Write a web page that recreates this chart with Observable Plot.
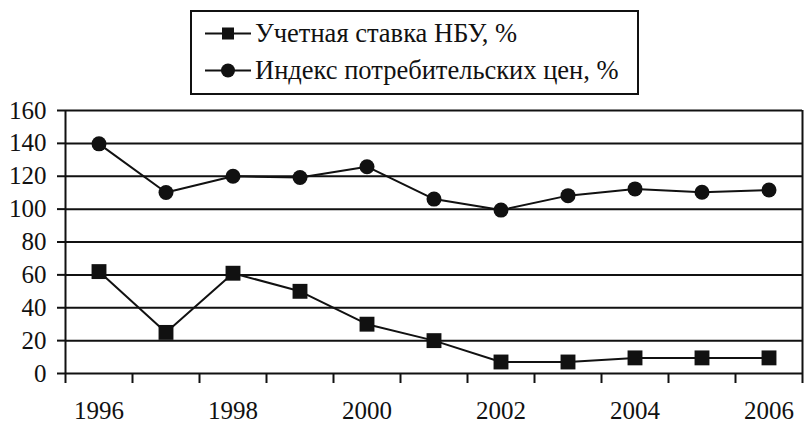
<!DOCTYPE html>
<html><head><meta charset="utf-8">
<script src="https://cdn.jsdelivr.net/npm/d3@7"></script>
<script src="https://cdn.jsdelivr.net/npm/@observablehq/plot@0.6"></script>
<style>
body{margin:0;background:#fff;}
#wrap{position:relative;width:804px;height:424px;font-family:'Liberation Serif','Times New Roman',serif;}
#legend{position:absolute;left:190px;top:10px;width:445px;height:81px;border:2px solid #111;background:#fff;z-index:2;}
.row{position:absolute;left:13px;height:30px;display:flex;align-items:center;font-size:26.5px;color:#111;white-space:nowrap;}
.row svg{margin-right:4px;}
#chart{position:absolute;left:0;top:0;}
#chart svg text{font-family:'Liberation Serif','Times New Roman',serif;}
</style></head>
<body><div id="wrap"><div id="legend"></div><div id="chart"></div></div>
<script>
const years = [1996,1997,1998,1999,2000,2001,2002,2003,2004,2005,2006];
const discountRate = [62,25,61,50,30,20,7,7,9.5,9.5,9.5];
const cpi = [139.7,110.1,120.0,119.2,125.8,106.1,99.4,108.2,112.3,110.3,111.6];
const seriesNames = ["Учетная ставка НБУ, %","Индекс потребительских цен, %"];
const yTicks = [0,20,40,60,80,100,120,140,160];
const xLabels = [1996,1998,2000,2002,2004,2006];

const boundaries = years.map(y => y - 0.5).concat([years[years.length-1] + 0.5]);
const rateData = years.map((y,i) => ({year:y, v:discountRate[i]}));
const cpiData = years.map((y,i) => ({year:y, v:cpi[i]}));
const ink = "#111";
const serif = "'Liberation Serif','Times New Roman',serif";

const chart = Plot.plot({
  width:804, height:424,
  marginTop:110, marginBottom:51, marginLeft:65, marginRight:2,
  style:{fontFamily:serif, fontSize:"25px", color:ink, background:"transparent"},
  x:{type:"linear", domain:[boundaries[0], boundaries[boundaries.length-1]], axis:null},
  y:{domain:[0,160], axis:null},
  marks:[
    Plot.ruleY(yTicks, {stroke:ink, strokeWidth:2}),
    Plot.ruleX([boundaries[0], boundaries[boundaries.length-1]], {stroke:ink, strokeWidth:2}),
    Plot.axisY({ticks:yTicks, tickSize:8, tickPadding:11, tickFormat:d => String(d), strokeWidth:2, fontSize:25, label:null}),
    Plot.axisX({ticks:boundaries, tickSize:10, tickFormat:() => "", strokeWidth:2, label:null}),
    Plot.axisX({ticks:xLabels, tickSize:0, tickPadding:28, tickFormat:d => String(d), fontSize:25, label:null}),
    Plot.line(cpiData, {x:"year", y:"v", stroke:ink, strokeWidth:2}),
    Plot.line(rateData, {x:"year", y:"v", stroke:ink, strokeWidth:2}),
    Plot.dot(cpiData, {x:"year", y:"v", r:7.5, fill:ink, stroke:"none", symbol:"circle"}),
    Plot.dot(rateData, {x:"year", y:"v", r:8.4, fill:ink, stroke:"none", symbol:"square"})
  ]
});
document.getElementById("chart").appendChild(chart);

const legend = document.getElementById("legend");
const markers = ["square","circle"];
seriesNames.forEach((name,i) => {
  const row = document.createElement("div");
  row.className = "row";
  row.style.top = (6 + i*37) + "px";
  const marker = markers[i] === "square"
    ? '<rect x="17" y="9.5" width="12" height="12" fill="#111"/>'
    : '<circle cx="23" cy="15.5" r="7" fill="#111"/>';
  row.innerHTML = '<svg width="46" height="30"><line x1="0" x2="46" y1="15.5" y2="15.5" stroke="#111" stroke-width="2"/>' + marker + '</svg><span>' + name + '</span>';
  legend.appendChild(row);
});
</script>
</body></html>
